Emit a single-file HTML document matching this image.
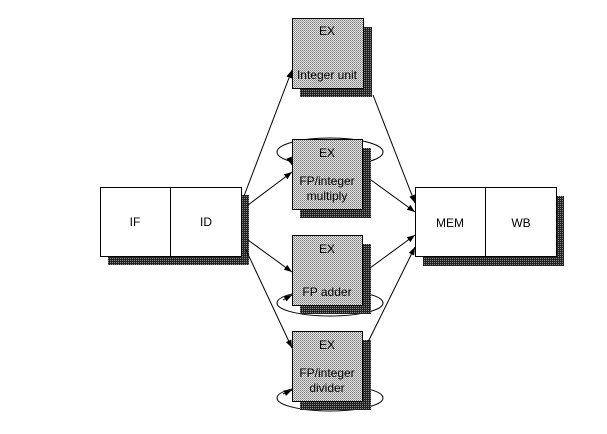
<!DOCTYPE html>
<html><head><style>body{margin:0;background:#fff}svg{display:block}</style></head><body>
<svg width="607" height="434" viewBox="0 0 607 434" xmlns="http://www.w3.org/2000/svg" font-family="Liberation Sans, sans-serif">
<defs>
<pattern id="lt" width="2" height="2" patternUnits="userSpaceOnUse"><rect width="2" height="2" fill="#e8e8e8"/><rect width="1" height="1" fill="#777"/><rect x="1" y="1" width="1" height="1" fill="#999"/></pattern>
<pattern id="dk" width="2" height="2" patternUnits="userSpaceOnUse"><rect width="2" height="2" fill="#222"/><rect width="1" height="1" fill="#888"/></pattern>
<marker id="a" markerWidth="8" markerHeight="6" refX="8" refY="3" orient="auto" markerUnits="userSpaceOnUse"><path d="M0,0L8,3L0,6z" fill="#000"/></marker>
</defs>
<g stroke="#000" stroke-width="1" fill="none">
<ellipse cx="330" cy="152" rx="53" ry="14"/>
<ellipse cx="330" cy="303" rx="53" ry="13"/>
<ellipse cx="330" cy="398" rx="53" ry="13"/>
</g>
<!-- shadows -->
<g fill="url(#dk)">
<rect x="108" y="195" width="141" height="70"/>
<rect x="423" y="196" width="141" height="70"/>
<rect x="300" y="27" width="72" height="70"/>
<rect x="300" y="148" width="71" height="70"/>
<rect x="300" y="244" width="71" height="70"/>
<rect x="300" y="340" width="71" height="70"/>
</g>
<g stroke="#000" stroke-width="1">
<rect x="100.5" y="187.5" width="141" height="69" fill="#fff"/>
<line x1="170.5" y1="187" x2="170.5" y2="256"/>
<rect x="415.5" y="187.5" width="141" height="69" fill="#fff"/>
<line x1="485.5" y1="187" x2="485.5" y2="256"/>
<rect x="292.5" y="18.5" width="71" height="70" fill="url(#lt)"/>
<rect x="292.5" y="139.5" width="70" height="70" fill="url(#lt)"/>
<rect x="292.5" y="235.5" width="70" height="70" fill="url(#lt)"/>
<rect x="292.5" y="331.5" width="70" height="70" fill="url(#lt)"/>
</g>
<g stroke="#000" stroke-width="1" marker-end="url(#a)">
<line x1="244" y1="196" x2="292" y2="70"/>
<line x1="248" y1="205" x2="292" y2="172"/>
<line x1="248" y1="240" x2="292" y2="272"/>
<line x1="246" y1="250" x2="292" y2="348"/>
<line x1="373" y1="95" x2="415" y2="203"/>
<line x1="371" y1="180" x2="415" y2="212"/>
<line x1="370" y1="268" x2="415" y2="235"/>
<line x1="368" y1="342" x2="415" y2="247"/>
<path d="M290 160 L292 165" />
<path d="M283 300 L292 295" />
<path d="M283 394 L292 390" />
</g>
<g font-size="12" text-anchor="middle" fill="#000">
<text x="135" y="226">IF</text>
<text x="206" y="226">ID</text>
<text x="450" y="227">MEM</text>
<text x="521" y="227">WB</text>
<text x="327" y="35">EX</text>
<text x="327" y="79">Integer unit</text>
<text x="327" y="157">EX</text>
<text x="327" y="185">FP/integer</text>
<text x="327" y="200">multiply</text>
<text x="327" y="253">EX</text>
<text x="327" y="296">FP adder</text>
<text x="327" y="349">EX</text>
<text x="327" y="377">FP/integer</text>
<text x="327" y="392">divider</text>
</g>
</svg>
</body></html>
